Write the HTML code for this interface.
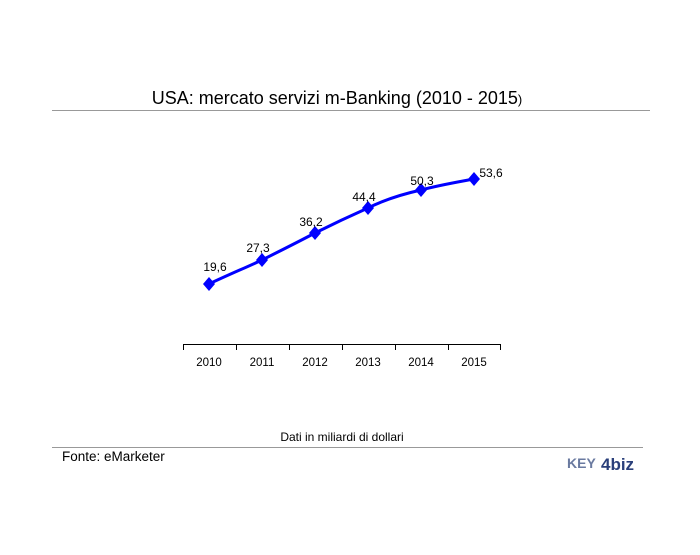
<!DOCTYPE html>
<html><head><style>
body{margin:0;background:#fff;width:700px;height:550px;overflow:hidden}
</style></head><body>
<svg width="700" height="550" xmlns="http://www.w3.org/2000/svg" font-family="Liberation Sans, Arial, sans-serif">
<text x="337" y="104" font-size="18" text-anchor="middle" fill="#000">USA: mercato servizi m-Banking (2010 - 2015<tspan font-size="13">)</tspan></text>
<line x1="52" y1="110.5" x2="650" y2="110.5" stroke="#999" stroke-width="1"/>
<line x1="183" y1="344.5" x2="500" y2="344.5" stroke="#000"/>
<g stroke="#000">
<line x1="183.5" y1="344" x2="183.5" y2="350"/><line x1="236.5" y1="344" x2="236.5" y2="350"/>
<line x1="289.5" y1="344" x2="289.5" y2="350"/><line x1="342.5" y1="344" x2="342.5" y2="350"/>
<line x1="395.5" y1="344" x2="395.5" y2="350"/><line x1="448.5" y1="344" x2="448.5" y2="350"/>
<line x1="500.5" y1="344" x2="500.5" y2="350"/>
</g>
<g font-size="11.5" text-anchor="middle" fill="#000">
<text x="209" y="366">2010</text><text x="262" y="366">2011</text><text x="315" y="366">2012</text>
<text x="368" y="366">2013</text><text x="421" y="366">2014</text><text x="474" y="366">2015</text>
</g>
<path d="M209,284 C230,274 245,268 262,260 C280,251 298,242 315,233 C333,224 350,216 368,208 C386,199 403,194 421,190 C440,185 458,182 474,179" fill="none" stroke="#0000ff" stroke-width="3"/>
<g fill="#0000ff">
<path d="M209,277 l6,7 l-6,7 l-6,-7z"/><path d="M262,253 l6,7 l-6,7 l-6,-7z"/>
<path d="M315,226 l6,7 l-6,7 l-6,-7z"/><path d="M368,201 l6,7 l-6,7 l-6,-7z"/>
<path d="M421,183 l6,7 l-6,7 l-6,-7z"/><path d="M474,172 l6,7 l-6,7 l-6,-7z"/>
</g>
<g font-size="12" fill="#000" text-anchor="middle">
<text x="215" y="271">19,6</text><text x="258" y="252">27,3</text><text x="311" y="226">36,2</text>
<text x="364" y="201">44,4</text><text x="422" y="185">50,3</text><text x="491" y="177">53,6</text>
</g>
<text x="342" y="441" font-size="12" text-anchor="middle" fill="#000">Dati in miliardi di dollari</text>
<line x1="52" y1="447.5" x2="643" y2="447.5" stroke="#999"/>
<text x="62" y="461" font-size="13.5" fill="#000">Fonte: eMarketer</text>
<text x="567" y="468" font-size="14" font-weight="bold" fill="#6a7aa0">KEY</text>
<text x="601" y="470" font-size="17" font-weight="bold" fill="#2a3f7a">4biz</text>
</svg>
</body></html>
